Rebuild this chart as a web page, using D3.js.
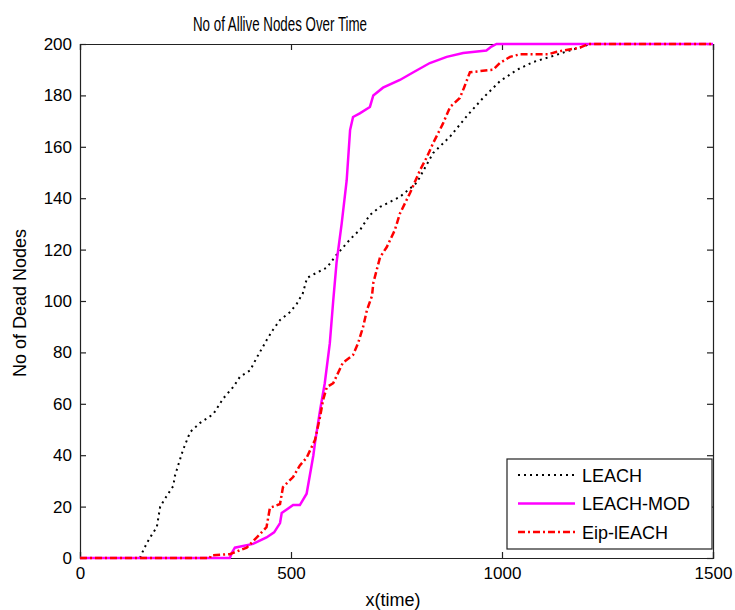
<!DOCTYPE html>
<html>
<head>
<meta charset="utf-8">
<script src="https://cdn.jsdelivr.net/npm/d3@7"></script>
<style>
  html, body { margin: 0; padding: 0; background: #ffffff; }
  svg text { font-family: Arial, "Liberation Sans", sans-serif; fill: #000; }
</style>
</head>
<body>
<div id="chart"></div>
<script>
// dead node counts, [time, nodes]
const leach = [
    [0, 0], [142, 0], [150, 3], [159, 6], [170, 9], [182, 12], [190, 20], [205, 24], [221, 28],
    [225, 32], [244, 42], [261, 49], [284, 52.5], [316, 56], [339, 62], [363, 66.5], [379, 70.5],
    [403, 73], [419, 78], [443, 85], [457, 88.7], [474, 92.6], [498, 95.7], [514, 99], [528, 103],
    [538, 109], [561, 111], [585, 113], [608, 118], [640, 124], [665, 128], [687, 133.5], [711, 136.6],
    [758, 140.5], [798, 146], [837, 157.6], [877, 164], [917, 172], [955, 179], [995, 185.5],
    [1036, 190], [1074, 193], [1114, 195], [1161, 197.5], [1192, 199], [1208, 200], [1500, 200]
];
const leachMod = [
    [0, 0], [355, 0], [360, 2], [367, 4], [410, 5.5], [442, 8], [460, 10], [474, 13.6], [478, 17.5],
    [505, 20.6], [521, 20.6], [537, 25], [553, 40], [557, 45], [569, 57.6], [580, 68], [592, 83.6],
    [600, 100], [608, 115], [620, 130], [632, 147], [640, 166.5], [647, 171.6], [663, 173], [687, 175.5],
    [695, 180], [718, 183], [758, 186], [790, 189], [829, 192.6], [869, 195], [908, 196.5],
    [963, 197.5], [975, 199], [987, 200], [1500, 200]
];
const eipLeach = [
    [0, 0], [308, 0], [310, 1], [355, 1.5], [363, 2], [395, 4], [419, 8], [442, 12], [450, 19.5],
    [474, 21], [481, 27.6], [505, 31.5], [521, 36], [537, 39], [557, 46], [569, 55], [576, 61.5],
    [585, 66.5], [600, 68], [623, 76], [647, 79], [659, 83.6], [671, 90], [680, 96.5], [692, 102],
    [695, 107], [711, 117], [727, 121], [746, 127.6], [758, 134], [782, 142], [806, 151], [822, 156],
    [837, 161.5], [860, 169], [877, 175.5], [900, 179], [910, 183], [924, 189], [979, 190],
    [995, 192.6], [1019, 195], [1043, 196], [1110, 196], [1130, 197], [1185, 198.6], [1205, 200],
    [1500, 200]
];
const seriesNames = ['LEACH', 'LEACH-MOD', 'Eip-lEACH'];
const xTicks = [0, 500, 1000, 1500];
const yTicks = [0, 20, 40, 60, 80, 100, 120, 140, 160, 180, 200];

const width = 735;
const height = 610;
const margin = { top: 44, right: 22, bottom: 52, left: 80 };

const svg = d3.select('#chart').append('svg')
    .attr('width', width)
    .attr('height', height);

const xScale = d3.scaleLinear().domain([0, 1500]).range([margin.left, width - margin.right]);
const yScale = d3.scaleLinear().domain([0, 200]).range([height - margin.bottom, margin.top]);

const styles = [
    { data: leach, color: '#000000', width: 2, dash: '2,4' },
    { data: leachMod, color: '#ff00ff', width: 2.5, dash: null },
    { data: eipLeach, color: '#ff0000', width: 2.5, dash: '7,3,2,3' }
];

// frame with inward ticks on every side
const axisColor = '#222';
svg.append('g')
    .attr('transform', `translate(0, ${yScale(0)})`)
    .call(d3.axisBottom(xScale).tickValues(xTicks).tickFormat(d3.format('d')).tickSize(-6).tickPadding(9));
svg.append('g')
    .attr('transform', `translate(0, ${yScale(200)})`)
    .call(d3.axisTop(xScale).tickValues(xTicks).tickSize(-6).tickFormat(''));
svg.append('g')
    .attr('transform', `translate(${xScale(0)}, 0)`)
    .call(d3.axisLeft(yScale).tickValues(yTicks).tickSize(-6).tickPadding(8));
svg.append('g')
    .attr('transform', `translate(${xScale(1500)}, 0)`)
    .call(d3.axisRight(yScale).tickValues(yTicks).tickSize(-6).tickFormat(''));
svg.selectAll('.domain, .tick line').attr('stroke', axisColor).attr('stroke-width', 1.2);
svg.selectAll('.tick text')
    .style('font-family', 'Arial, "Liberation Sans", sans-serif')
    .style('font-size', '17px')
    .attr('fill', '#000');

const line = d3.line().x(d => xScale(d[0])).y(d => yScale(d[1]));

svg.selectAll('.series')
    .data(styles)
    .enter()
    .append('path')
    .attr('class', 'series')
    .attr('fill', 'none')
    .attr('stroke', d => d.color)
    .attr('stroke-width', d => d.width)
    .attr('stroke-dasharray', d => d.dash)
    .attr('d', d => line(d.data));

// title and axis labels
svg.append('text')
    .attr('x', 280)
    .attr('y', 31)
    .attr('text-anchor', 'middle')
    .attr('textLength', 174)
    .attr('lengthAdjust', 'spacingAndGlyphs')
    .style('font-size', '21px')
    .text('No of Allive Nodes Over Time');

svg.append('text')
    .attr('x', 393)
    .attr('y', 606)
    .attr('text-anchor', 'middle')
    .style('font-size', '18px')
    .text('x(time)');

svg.append('text')
    .attr('transform', 'translate(26, 303) rotate(-90)')
    .attr('text-anchor', 'middle')
    .style('font-size', '18px')
    .text('No of Dead Nodes');

// legend
const legend = svg.append('g').attr('transform', 'translate(507, 459)');
legend.append('rect')
    .attr('width', 205)
    .attr('height', 90)
    .attr('fill', '#ffffff')
    .attr('stroke', axisColor)
    .attr('stroke-width', 1.2);
const rows = legend.selectAll('.row')
    .data(styles)
    .enter()
    .append('g')
    .attr('transform', (d, i) => `translate(0, ${16 + i * 28.5})`);
rows.append('line')
    .attr('x1', 11)
    .attr('x2', 68)
    .attr('stroke', d => d.color)
    .attr('stroke-width', d => d.width)
    .attr('stroke-dasharray', d => d.dash);
rows.append('text')
    .attr('x', 75)
    .attr('y', 6.5)
    .style('font-size', '18px')
    .text((d, i) => seriesNames[i]);
</script>
</body>
</html>
